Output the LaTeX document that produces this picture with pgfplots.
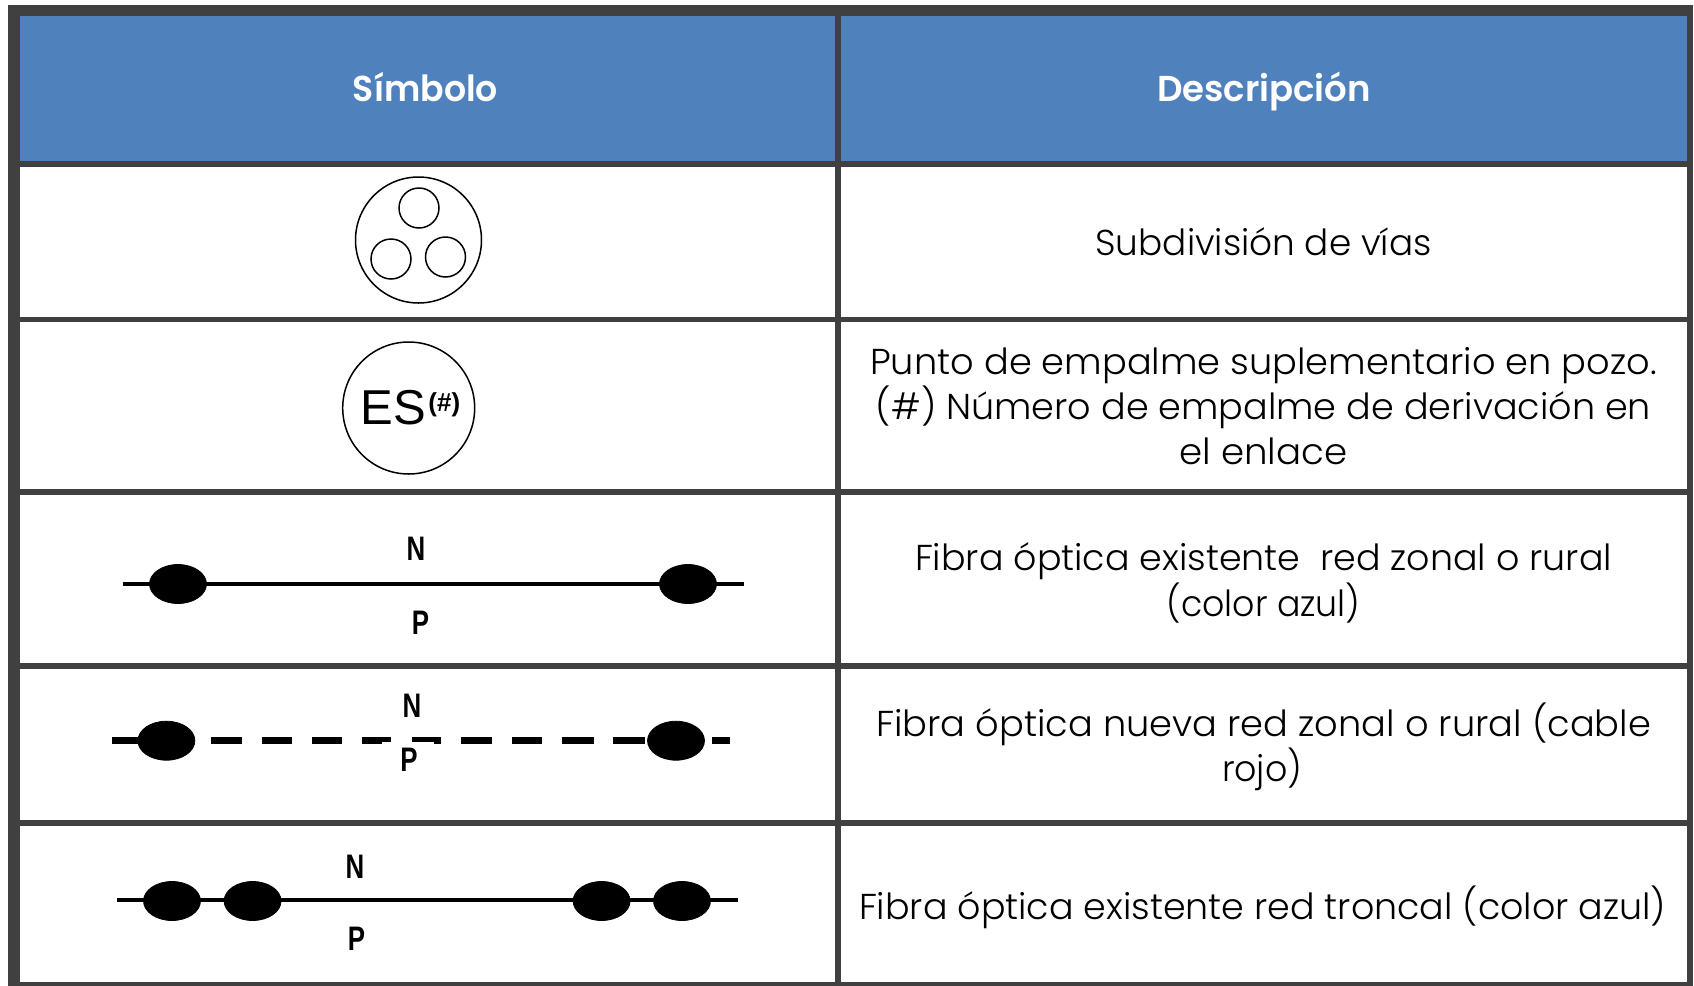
\documentclass[border=0pt]{standalone}
\usepackage{fontspec}
\usepackage{graphicx}
\usepackage{pgfplots}
\pgfplotsset{compat=1.18}
\setmainfont{Poppins Light}
\newfontfamily\headfont{Poppins SemiBold}
\newfontfamily\arialfont{Liberation Sans}
\definecolor{hblue}{HTML}{4F81BD}
\definecolor{frame}{HTML}{404040}
\newcommand\lineW[4]{\node[anchor=base,inner sep=0pt] at (axis cs:#1,#2) {\resizebox{#3pt}{\height}{\strut #4}};}
\newcommand\bodytext[4]{\lineW{#1}{#2}{#3}{\fontsize{18}{22}\selectfont #4}}
\newcommand\elli[2]{\addplot[only marks,mark=*,mark size=9.75pt,mark options={xscale=1.46,draw=black,fill=black}] coordinates {(#1,#2)};}
\newcommand\circm[3]{\addplot[only marks,mark=o,mark size=#3pt,mark options={draw=black,line width=0.75pt}] coordinates {(#1,#2)};}
\newcommand\bolda[3]{\node[anchor=base,inner sep=0pt] at (axis cs:#1,#2) {\scalebox{0.76}[1]{\arialfont\bfseries\fontsize{17}{17}\selectfont #3}};}
\begin{document}
\begin{tikzpicture}
\path[use as bounding box] (0,0) rectangle (847pt,493pt);
\begin{axis}[
  at={(0,0)},anchor=south west,
  width=847pt,height=493pt,scale only axis,
  xmin=0,xmax=1694,ymin=-1,ymax=985,y dir=reverse,
  hide axis,clip=false]
% header fill
\addplot[draw=hblue,line width=72.5pt,line cap=butt] coordinates {(19,87.5) (1688,87.5)};
% horizontal rules
\addplot[draw=frame,line width=5.75pt,line cap=butt] coordinates {(8,9.5) (1693,9.5)};
\addplot[draw=frame,line width=3pt,line cap=butt] coordinates {(8,163) (1693,163)};
\addplot[draw=frame,line width=2.75pt,line cap=butt] coordinates {(8,318.5) (1693,318.5)};
\addplot[draw=frame,line width=2.75pt,line cap=butt] coordinates {(8,491) (1693,491)};
\addplot[draw=frame,line width=2.75pt,line cap=butt] coordinates {(8,665) (1693,665)};
\addplot[draw=frame,line width=2.75pt,line cap=butt] coordinates {(8,822) (1693,822)};
\addplot[draw=frame,line width=2.5pt,line cap=butt] coordinates {(8,983) (1693,983)};
% vertical rules
\addplot[draw=frame,line width=5.75pt,line cap=butt] coordinates {(13.75,4) (13.75,985)};
\addplot[draw=frame,line width=3pt,line cap=butt] coordinates {(838,4) (838,985)};
\addplot[draw=frame,line width=3pt,line cap=butt] coordinates {(1690,4) (1690,985)};
% row 1 symbol
\circm{418.5}{239}{31.5}
\circm{419}{207}{10}
\circm{391}{258}{10}
\circm{445.5}{256}{10}
% row 2 symbol
\circm{408.7}{407}{33}
\node[anchor=base west,inner sep=0pt] at (axis cs:360,423) {\arialfont\fontsize{24.5}{24.5}\selectfont ES};
\node[anchor=base west,inner sep=0pt] at (axis cs:428,410) {\arialfont\bfseries\fontsize{13}{13}\selectfont (\#)};
% row 3 symbol
\addplot[draw=black,line width=2.25pt,line cap=butt] coordinates {(122.5,583) (743.6,583)};
\elli{178}{583}
\elli{688}{583}
\bolda{416}{559}{N}
\bolda{420.6}{633}{P}
% row 4 symbol
\addplot[draw=black,line width=3.25pt,line cap=butt] coordinates {(112,739.5) (140,739.5)};
\addplot[draw=black,line width=3.25pt,line cap=butt] coordinates {(211,739.5) (242,739.5)};
\addplot[draw=black,line width=3.25pt,line cap=butt] coordinates {(262,739.5) (292,739.5)};
\addplot[draw=black,line width=3.25pt,line cap=butt] coordinates {(312,739.5) (342,739.5)};
\addplot[draw=black,line width=3.25pt,line cap=butt] coordinates {(362,739.5) (391,739.5)};
\addplot[draw=black,line width=3.25pt,line cap=butt] coordinates {(412,739.5) (441,739.5)};
\addplot[draw=black,line width=3.25pt,line cap=butt] coordinates {(461,739.5) (492,739.5)};
\addplot[draw=black,line width=3.25pt,line cap=butt] coordinates {(512,739.5) (542,739.5)};
\addplot[draw=black,line width=3.25pt,line cap=butt] coordinates {(561.5,739.5) (593.5,739.5)};
\addplot[draw=black,line width=3.25pt,line cap=butt] coordinates {(612.5,739.5) (645,739.5)};
\addplot[draw=black,line width=3.25pt,line cap=butt] coordinates {(712,739.5) (730,739.5)};
\addplot[draw=white,line width=4pt,line cap=butt] coordinates {(382,745) (434,745)};
\elli{166.4}{739.7}
\elli{676}{739.7}
\bolda{412}{716}{N}
\bolda{409}{770.7}{P}
% row 5 symbol
\addplot[draw=black,line width=2pt,line cap=butt] coordinates {(116.5,899.3) (737.7,899.3)};
\elli{172}{900}
\elli{252.6}{900}
\elli{601.6}{900}
\elli{682}{900}
\bolda{355}{877}{N}
\bolda{356.6}{949}{P}
% headers
\node[anchor=base,inner sep=0pt,text=white] at (axis cs:425.5,100) {\resizebox{72.5pt}{\height}{\headfont\fontsize{18}{22}\selectfont Símbolo}};
\node[anchor=base,inner sep=0pt,text=white] at (axis cs:1264,100) {\resizebox{107pt}{\height}{\headfont\fontsize{18}{22}\selectfont Descripción}};
% descriptions
\bodytext{1263.5}{254}{168}{Subdivisión de vías}
\bodytext{1263.5}{373}{393.25}{Punto de empalme suplementario en pozo.}
\bodytext{1263.5}{418}{387.5}{(\#) Número de empalme de derivación en}
\bodytext{1263.5}{463}{84}{el enlace}
\bodytext{1263.5}{569}{348.5}{Fibra óptica existente\ \ red zonal o rural}
\bodytext{1263.5}{615}{97}{(color azul)}
\bodytext{1263.5}{735}{387.5}{Fibra óptica nueva red zonal o rural (cable}
\bodytext{1262}{780}{40}{rojo)}
\bodytext{1262.5}{918}{403.5}{Fibra óptica existente red troncal (color azul)}
\end{axis}
\end{tikzpicture}
\end{document}
